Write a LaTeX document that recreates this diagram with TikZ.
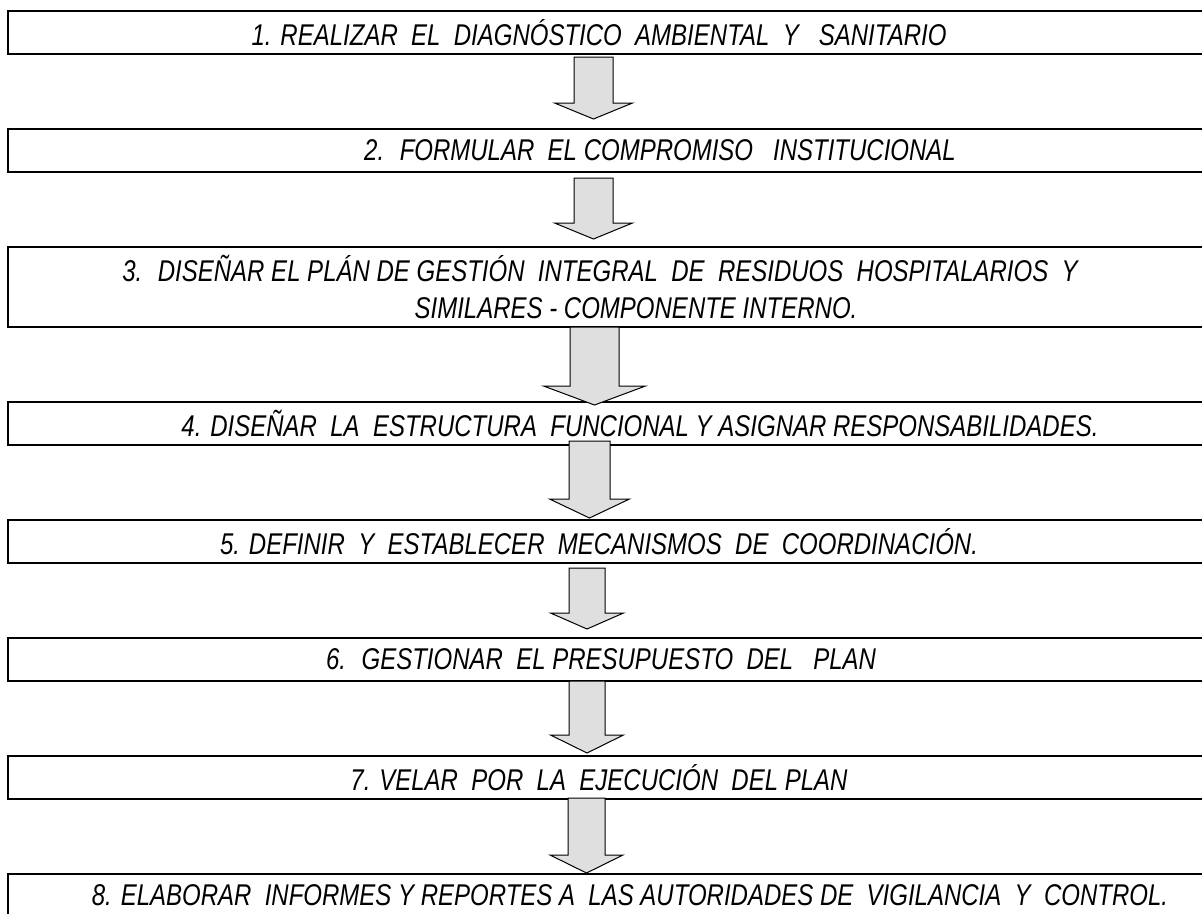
\documentclass[tikz,border=0pt]{standalone}
\usepackage{fontspec}
\setmainfont{Liberation Sans}[FakeStretch=0.80]
\usetikzlibrary{calc}
\tikzset{%
  stage/.style      = {shape=rectangle, draw, line width=1.3pt,%
                       minimum width=1204pt, minimum height=43pt,%
                       inner sep=0pt, outer sep=0pt, align=center,%
                       font=\fontsize{30}{36.5}\selectfont\itshape},%
  blockarrow/.style = {draw, line width=1pt, fill=gray!25, line join=miter}%
}
% from, to, x, top gap, tip gap, shaft half width, head half width, head length
\newcommand{\stagearrow}[8]{%
  \draw[blockarrow] let \p1 = (#1.south), \p2 = (#2.north) in
    ({#3pt-#6pt},{\y1-(#4pt)}) -- ({#3pt+#6pt},{\y1-(#4pt)})
    -- ({#3pt+#6pt},{\y2+(#5pt)+#8pt}) -- ({#3pt+#7pt},{\y2+(#5pt)+#8pt})
    -- ({#3pt},{\y2+(#5pt)})
    -- ({#3pt-#7pt},{\y2+(#5pt)+#8pt}) -- ({#3pt-#6pt},{\y2+(#5pt)+#8pt}) -- cycle;}

\begin{document}
\begin{tikzpicture}[x=1pt,y=-1pt]
	\useasboundingbox (0,0) rectangle (1202,913);
	% the eight stages
	\node[stage] (s1) at (610,32.5) {\hspace*{-22pt}1. REALIZAR~ EL~ DIAGNÓSTICO~ AMBIENTAL~ Y~~ SANITARIO};
	\node[stage] (s2) at (610,150.5) {\hspace*{100pt}2.~ FORMULAR~ EL COMPROMISO~~ INSTITUCIONAL};
	\node[stage, minimum height=80pt] (s3) at (610,287)
		{\hspace*{-20pt}3.~ DISEÑAR EL PLÁN DE GESTIÓN~ INTEGRAL~ DE~ RESIDUOS~ HOSPITALARIOS~ Y\\
		 \hspace*{52pt}SIMILARES - COMPONENTE INTERNO.};
	\node[stage] (s4) at (610,423.5) {\hspace*{60pt}4. DISEÑAR~ LA~ ESTRUCTURA~ FUNCIONAL Y ASIGNAR RESPONSABILIDADES.};
	\node[stage] (s5) at (610,541.5) {\hspace*{-22pt}5. DEFINIR~ Y~ ESTABLECER~ MECANISMOS~ DE~ COORDINACIÓN.};
	\node[stage] (s6) at (610,659.5) {\hspace*{-18pt}6.~ GESTIONAR~ EL PRESUPUESTO~ DEL~~ PLAN};
	\node[stage] (s7) at (610,777.5) {\hspace*{-22pt}7. VELAR~ POR~ LA~ EJECUCIÓN~ DEL PLAN};
	\node[stage] (s8) at (610,895.5) {\hspace*{40pt}8. ELABORAR~ INFORMES Y REPORTES A~ LAS AUTORIDADES DE~ VIGILANCIA~ Y~ CONTROL.};
	% block arrows between stages
	\stagearrow{s1}{s2}{593.5}{3}{10}{19.5}{39}{16}
	\stagearrow{s2}{s3}{593.5}{6}{8}{19.5}{39}{16}
	\stagearrow{s3}{s4}{594.5}{0}{-3}{24.5}{51}{19}
	\stagearrow{s4}{s5}{589.5}{-4}{2}{20.5}{40}{19}
	\stagearrow{s5}{s6}{587}{5}{9}{18}{36.5}{16}
	\stagearrow{s6}{s7}{587}{0}{3}{18}{36.5}{18}
	\stagearrow{s7}{s8}{586.5}{-1}{1}{18.5}{36.5}{18}
\end{tikzpicture}
\end{document}
